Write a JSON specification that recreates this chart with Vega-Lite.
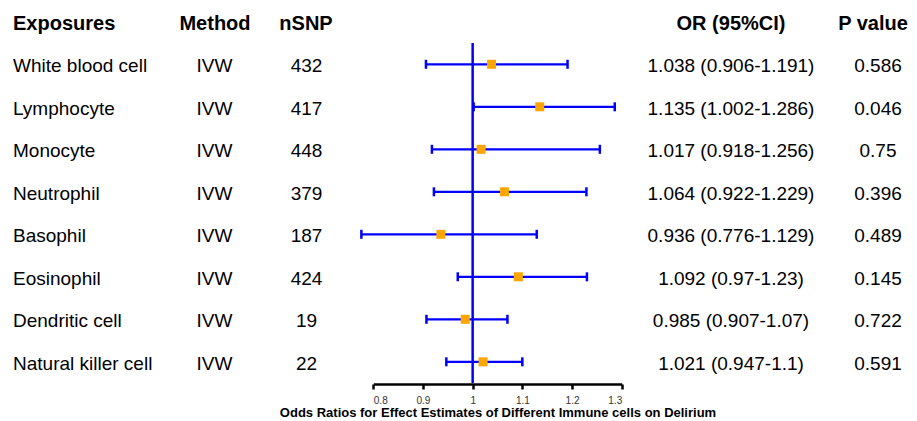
{
  "$schema": "https://vega.github.io/schema/vega-lite/v6.json",
  "width": 917,
  "height": 384,
  "autosize": {"type": "none"},
  "padding": {"left": 0, "top": 0, "right": 0, "bottom": 37},
  "background": "white",
  "config": {"view": {"stroke": null}, "font": "Liberation Sans", "text": {"font": "Liberation Sans", "color": "black"}},
  "datasets": {
    "rows": [
      {"row": 1, "exposure": "White blood cell", "method": "IVW", "nsnp": "432", "or": 1.038, "lo": 0.906, "hi": 1.191, "ortext": "1.038 (0.906-1.191)", "p": "0.586"},
      {"row": 2, "exposure": "Lymphocyte", "method": "IVW", "nsnp": "417", "or": 1.135, "lo": 1.002, "hi": 1.286, "ortext": "1.135 (1.002-1.286)", "p": "0.046"},
      {"row": 3, "exposure": "Monocyte", "method": "IVW", "nsnp": "448", "or": 1.017, "lo": 0.918, "hi": 1.256, "ortext": "1.017 (0.918-1.256)", "p": "0.75"},
      {"row": 4, "exposure": "Neutrophil", "method": "IVW", "nsnp": "379", "or": 1.064, "lo": 0.922, "hi": 1.229, "ortext": "1.064 (0.922-1.229)", "p": "0.396"},
      {"row": 5, "exposure": "Basophil", "method": "IVW", "nsnp": "187", "or": 0.936, "lo": 0.776, "hi": 1.129, "ortext": "0.936 (0.776-1.129)", "p": "0.489"},
      {"row": 6, "exposure": "Eosinophil", "method": "IVW", "nsnp": "424", "or": 1.092, "lo": 0.97, "hi": 1.23, "ortext": "1.092 (0.97-1.23)", "p": "0.145"},
      {"row": 7, "exposure": "Dendritic cell", "method": "IVW", "nsnp": "19", "or": 0.985, "lo": 0.907, "hi": 1.07, "ortext": "0.985 (0.907-1.07)", "p": "0.722"},
      {"row": 8, "exposure": "Natural killer cell", "method": "IVW", "nsnp": "22", "or": 1.021, "lo": 0.947, "hi": 1.1, "ortext": "1.021 (0.947-1.1)", "p": "0.591"}
    ],
    "header": [
      {"row": 0, "exposure": "Exposures", "method": "Method", "nsnp": "nSNP", "ortext": "OR (95%CI)", "p": "P value"}
    ]
  },
  "resolve": {"scale": {"x": "independent"}},
  "layer": [
    {
      "layer": [
        {
          "data": {"values": [{}]},
          "mark": {"type": "rule", "color": "#0000FF", "strokeWidth": 2.5},
          "encoding": {
            "x": {"datum": 1, "type": "quantitative", "scale": {"domain": [0.8, 1.3], "range": [373.3, 621.7], "nice": false, "zero": false},
              "axis": {"values": [0.8, 0.9, 1, 1.1, 1.2, 1.3], "format": "~g", "grid": false, "domain": true, "domainColor": "black", "domainWidth": 2.5,
                "ticks": true, "tickColor": "black", "tickWidth": 2.5, "tickSize": 5, "labelFont": "Liberation Sans", "labelFontSize": 10, "labelColor": "#333333",
                "labelPadding": 6, "title": "Odds Ratios for Effect Estimates of Different Immune cells on Delirium", "titleFont": "Liberation Sans",
                "titleFontSize": 13, "titleFontWeight": "bold", "titleColor": "black", "titlePadding": 1}},
            "y": {"datum": 0.5, "type": "quantitative", "scale": {"domain": [0, 8], "range": [21.8, 361.8], "nice": false, "zero": false}, "axis": null},
            "y2": {"datum": 8.5}
          }
        },
        {
          "data": {"name": "rows"},
          "mark": {"type": "rule", "color": "#0000FF", "strokeWidth": 2.3},
          "encoding": {
            "x": {"field": "lo", "type": "quantitative"},
            "x2": {"field": "hi"},
            "y": {"field": "row", "type": "quantitative"}
          }
        },
        {
          "data": {"name": "rows"},
          "mark": {"type": "tick", "orient": "vertical", "color": "#0000FF", "size": 9, "thickness": 2.5, "opacity": 1},
          "encoding": {
            "x": {"field": "lo", "type": "quantitative"},
            "y": {"field": "row", "type": "quantitative"}
          }
        },
        {
          "data": {"name": "rows"},
          "mark": {"type": "tick", "orient": "vertical", "color": "#0000FF", "size": 9, "thickness": 2.5, "opacity": 1},
          "encoding": {
            "x": {"field": "hi", "type": "quantitative"},
            "y": {"field": "row", "type": "quantitative"}
          }
        },
        {
          "data": {"name": "rows"},
          "mark": {"type": "square", "color": "#FFA500", "size": 81, "opacity": 1, "filled": true},
          "encoding": {
            "x": {"field": "or", "type": "quantitative"},
            "y": {"field": "row", "type": "quantitative"}
          }
        }
      ]
    },
    {
      "layer": [
        {
          "data": {"name": "header"},
          "mark": {"type": "text", "align": "left", "baseline": "alphabetic", "dy": 8.5, "fontSize": 20, "fontWeight": "bold"},
          "encoding": {
            "x": {"datum": 13, "type": "quantitative", "scale": {"domain": [0, 917], "range": [0, 917], "nice": false, "zero": false}, "axis": null},
            "y": {"field": "row", "type": "quantitative"},
            "text": {"field": "exposure"}
          }
        },
        {
          "data": {"name": "header"},
          "mark": {"type": "text", "align": "center", "baseline": "alphabetic", "dy": 8.5, "fontSize": 20, "fontWeight": "bold"},
          "encoding": {"x": {"datum": 215, "type": "quantitative"}, "y": {"field": "row", "type": "quantitative"}, "text": {"field": "method"}}
        },
        {
          "data": {"name": "header"},
          "mark": {"type": "text", "align": "center", "baseline": "alphabetic", "dy": 8.5, "fontSize": 20, "fontWeight": "bold"},
          "encoding": {"x": {"datum": 306, "type": "quantitative"}, "y": {"field": "row", "type": "quantitative"}, "text": {"field": "nsnp"}}
        },
        {
          "data": {"name": "header"},
          "mark": {"type": "text", "align": "center", "baseline": "alphabetic", "dy": 8.5, "fontSize": 20, "fontWeight": "bold"},
          "encoding": {"x": {"datum": 731, "type": "quantitative"}, "y": {"field": "row", "type": "quantitative"}, "text": {"field": "ortext"}}
        },
        {
          "data": {"name": "header"},
          "mark": {"type": "text", "align": "center", "baseline": "alphabetic", "dy": 8.5, "fontSize": 20, "fontWeight": "bold"},
          "encoding": {"x": {"datum": 873, "type": "quantitative"}, "y": {"field": "row", "type": "quantitative"}, "text": {"field": "p"}}
        },
        {
          "data": {"name": "rows"},
          "mark": {"type": "text", "align": "left", "baseline": "alphabetic", "dy": 8, "fontSize": 19},
          "encoding": {"x": {"datum": 13, "type": "quantitative"}, "y": {"field": "row", "type": "quantitative"}, "text": {"field": "exposure"}}
        },
        {
          "data": {"name": "rows"},
          "mark": {"type": "text", "align": "center", "baseline": "alphabetic", "dy": 8, "fontSize": 19},
          "encoding": {"x": {"datum": 214.5, "type": "quantitative"}, "y": {"field": "row", "type": "quantitative"}, "text": {"field": "method"}}
        },
        {
          "data": {"name": "rows"},
          "mark": {"type": "text", "align": "center", "baseline": "alphabetic", "dy": 8, "fontSize": 19},
          "encoding": {"x": {"datum": 306.5, "type": "quantitative"}, "y": {"field": "row", "type": "quantitative"}, "text": {"field": "nsnp"}}
        },
        {
          "data": {"name": "rows"},
          "mark": {"type": "text", "align": "center", "baseline": "alphabetic", "dy": 8, "fontSize": 19},
          "encoding": {"x": {"datum": 731, "type": "quantitative"}, "y": {"field": "row", "type": "quantitative"}, "text": {"field": "ortext"}}
        },
        {
          "data": {"name": "rows"},
          "mark": {"type": "text", "align": "center", "baseline": "alphabetic", "dy": 8, "fontSize": 19},
          "encoding": {"x": {"datum": 878, "type": "quantitative"}, "y": {"field": "row", "type": "quantitative"}, "text": {"field": "p"}}
        }
      ]
    }
  ]
}
